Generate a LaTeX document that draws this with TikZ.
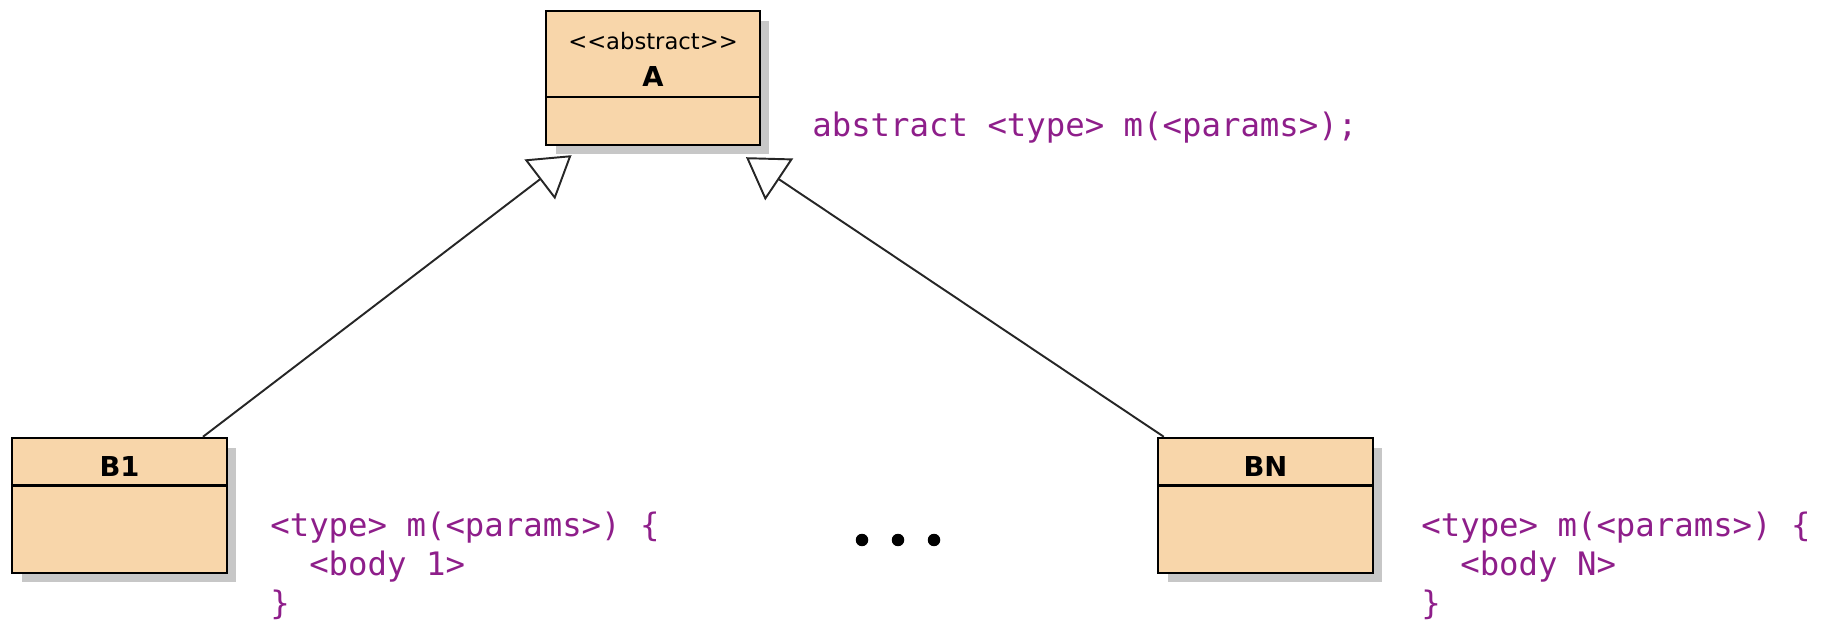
\documentclass[tikz,border=0pt]{standalone}
\usepackage{fontspec}
\usepackage{xcolor}
\usepackage{tikz}
\usetikzlibrary{arrows.meta}
\usetikzlibrary{shadows,positioning}

\newfontfamily\umlfont{DejaVu Sans}
\newfontfamily\codefont{DejaVu Sans Mono}
\definecolor{classfill}{RGB}{248,214,170}
\definecolor{codepurple}{RGB}{142,30,138}

\tikzset{
  classbox/.style={draw=black, line width=1.4pt, fill=classfill, inner sep=0pt,
    drop shadow={shadow xshift=0.19cm, shadow yshift=-0.19cm, fill=black!22, opacity=1}},
  stereo/.style={font=\umlfont\fontsize{12.9}{15}\selectfont, anchor=base, inner sep=0pt},
  classname/.style={font=\umlfont\bfseries\fontsize{15.6}{18}\selectfont, anchor=base, inner sep=0pt},
  codetext/.style={font=\codefont\fontsize{18.4}{22}\selectfont, text=codepurple,
    anchor=base west, inner sep=0pt, align=left},
  inherit/.style={line width=1.1pt, draw=black!85, -{Triangle[open, length=0.8cm, width=1cm]}},
}

\begin{document}
\begin{tikzpicture}[x=0.02cm, y=-0.02cm]
\useasboundingbox (0,0) rectangle (1826,621);

% The abstract class on top, with its stereotype and an empty second part.
\node[classbox, minimum width=4.28cm, minimum height=2.68cm] (A) at (653,78) {};
\draw[line width=1.4pt] ([yshift=-1.74cm]A.north west) -- ([yshift=-1.74cm]A.north east);
\node[stereo] (Astereo) at (653,50) {<\kern0pt<abstract>\kern0pt>};
\node[classname] (Aname) at (653,87) {A};

% The two concrete subclasses below it.
\node[classbox, minimum width=4.3cm, minimum height=2.7cm] (B1) at (119.5,505.5) {};
\draw[line width=1.4pt] ([yshift=-0.97cm]B1.north west) -- ([yshift=-0.97cm]B1.north east);
\node[classname] (B1name) at (119.5,477) {B1};

\node[classbox, minimum width=4.3cm, minimum height=2.7cm] (BN) at (1265.5,505.5) {};
\draw[line width=1.4pt] ([yshift=-0.97cm]BN.north west) -- ([yshift=-0.97cm]BN.north east);
\node[classname] (BNname) at (1265.5,477) {BN};

% Generalisation arrows, from each subclass up to A.
\draw[inherit] ([xshift=1.67cm]B1.north) -- ([xshift=-1.63cm,yshift=-0.18cm]A.south);
\draw[inherit] ([xshift=0.14cm]BN.north west) -- ([xshift=1.86cm,yshift=-0.22cm]A.south);

% The method as it is declared and as it is overridden
% (base of a node of three lines is the last line).
\node[codetext] (Acode) at (812,137) {abstract <type> m(<params>);};
\node[codetext] (B1code) at (270,614) {<type> m(<params>) \{\\\hphantom{xx}<body 1>\\\}};
\node[codetext] (BNcode) at (1421,614) {<type> m(<params>) \{\\\hphantom{xx}<body N>\\\}};

% The other subclasses that are left out.
\foreach \x in {862,898,934}
  \fill (\x,540) circle (0.125cm);
\end{tikzpicture}
\end{document}
